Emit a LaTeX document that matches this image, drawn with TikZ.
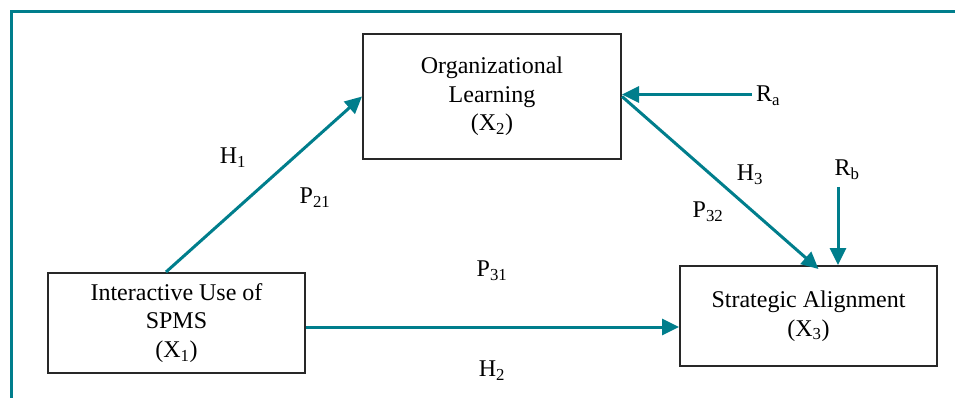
\documentclass[tikz,border=0pt]{standalone}
\usepackage{fontspec}
\setmainfont{Liberation Serif}
\usetikzlibrary{arrows.meta,calc}
\definecolor{teal1}{RGB}{0,126,140}
\definecolor{boxgray}{RGB}{40,40,40}
\tikzset{
  varbox/.style={draw=boxgray, line width=2pt, align=center, inner sep=0pt,
    font=\fontsize{24}{28.5}\selectfont},
  path/.style={draw=teal1, line width=3pt, -{Triangle[length=17pt,width=16pt]}},
  frameline/.style={draw=teal1, line width=2.6pt},
  lbl/.style={inner sep=0pt, font=\fontsize{24}{28.5}\selectfont}
}
\begin{document}
\begin{tikzpicture}[x=1pt,y=-1pt]
\useasboundingbox (0,0) rectangle (955,398);
\draw[frameline] (11.3,398) -- (11.3,11.3) -- (955,11.3);
% boxes
\node[varbox, minimum width=258pt, minimum height=125pt] (X2) at (492,96.5)
  {Organizational\\Learning\\(X\textsubscript{2})};
\node[varbox, minimum width=257pt, minimum height=100pt] (X1) at (176.5,323)
  {Interactive Use of\\SPMS\\(X\textsubscript{1})};
\node[varbox, minimum width=257pt, minimum height=100pt] (X3) at (808.5,316)
  {Strategic Alignment\\(X\textsubscript{3})};
% labels
\node[lbl] (H1) at (233,158) {H\textsubscript{1}};
\node[lbl] (P21) at (315,198) {P\textsubscript{21}};
\node[lbl] (H3) at (750,175) {H\textsubscript{3}};
\node[lbl] (P32) at (708,212) {P\textsubscript{32}};
\node[lbl] (P31) at (492,271) {P\textsubscript{31}};
\node[lbl] (H2) at (492,371) {H\textsubscript{2}};
\node[lbl, anchor=west] (RaL) at (756,96) {R\textsubscript{a}};
\node[lbl] (RbL) at (847,170) {R\textsubscript{b}};
% connector end points
\coordinate (Ra) at (752,94.5);
\coordinate (Rb) at (838,187);
\coordinate (h1s) at ($(X1.north)+(-10.5,0)$);
\coordinate (h2s) at ($(X1.east)+(0,4)$);
\coordinate (h3e) at ($(X3.north)+(10,4)$);
% connectors
\draw[path] (h1s) -- (X2.west);
\draw[path] (Ra) -- (Ra -| X2.east);
\draw[path] (X2.east) -- (h3e);
\draw[path] (Rb) -- (Rb |- X3.north);
\draw[path] (h2s) -- (h2s -| X3.west);
\end{tikzpicture}
\end{document}
